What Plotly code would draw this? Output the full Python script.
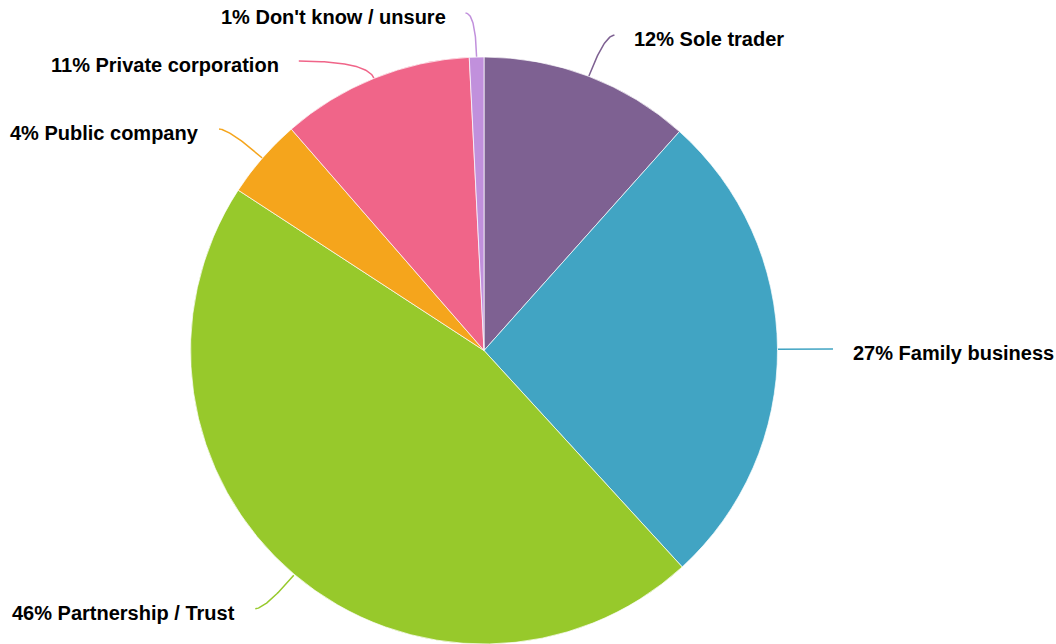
import numpy as np
import plotly.graph_objects as go

# ---- data ----
categories = ["Sole trader", "Family business", "Partnership / Trust",
              "Public company", "Private corporation", "Don't know / unsure"]
values = [11.6, 26.6, 46.0, 4.4, 10.6, 0.8]
colors = ["#7E6192", "#41A4C3", "#97C92B", "#F5A51C", "#F06589", "#C190DC"]

# ---- geometry (page pixels) ----
W, H = 1056, 644
CX, CY, R = 484, 351, 294
RL_Y = 338      # radius used to place label ends vertically
RL_X = 338      # radius used to place label ends horizontally
RL_PUSH = 344   # horizontal radius for labels pushed down to avoid overlap
GAP = 48        # minimum vertical gap between labels on one side

tot = float(sum(values))
fig = go.Figure()

fx0, fx1 = (CX - R) / W, (CX + R) / W
fy0, fy1 = 1 - (CY + R) / H, 1 - (CY - R) / H
fig.add_trace(go.Pie(
    labels=categories, values=values, sort=False, direction="clockwise",
    rotation=0, textinfo="none", hoverinfo="label+percent",
    marker=dict(colors=colors, line=dict(color="rgba(255,255,255,0.7)", width=1)),
    domain=dict(x=[fx0, fx1], y=[max(0, fy0), min(1, fy1)]),
    showlegend=False,
))

# compute leader geometry
items = []
cum = 0.0
for cat, v, col in zip(categories, values, colors):
    f = (cum + v / 2) / tot
    cum += v
    a = 2 * np.pi * f
    ux, uy = np.sin(a), -np.cos(a)
    p0 = (CX + R * ux, CY + R * uy)
    yend = CY + RL_Y * uy
    side = 1 if ux >= 0 else -1
    pct = int(np.floor(v / tot * 100 + 0.5))
    items.append(dict(cat=cat, col=col, ux=ux, uy=uy, p0=p0, y=yend, side=side,
                      pct=pct, pushed=False))

for s in (1, -1):
    grp = sorted([it for it in items if it["side"] == s], key=lambda d: d["y"])
    for i in range(1, len(grp)):
        if grp[i]["y"] < grp[i - 1]["y"] + GAP:
            grp[i]["y"] = grp[i - 1]["y"] + GAP
            grp[i]["pushed"] = True

for it in items:
    p0x, p0y = it["p0"]
    yend = it["y"]
    if abs(it["uy"]) > 0.05:
        t = max(0.0, (yend - p0y) / it["uy"])
    else:
        t = 45.0
    cx_ = p0x + t * it["ux"]
    dxc = abs(cx_ - CX) + 10
    rx = RL_PUSH if it["pushed"] else RL_X
    dxr = np.sqrt(max(rx ** 2 - (yend - CY) ** 2, 0.0))
    ex = CX + it["side"] * max(dxc, dxr)
    tt = np.linspace(0, 1, 40)
    bx = (1 - tt) ** 2 * p0x + 2 * (1 - tt) * tt * cx_ + tt ** 2 * ex
    by = (1 - tt) ** 2 * p0y + 2 * (1 - tt) * tt * yend + tt ** 2 * yend
    fig.add_trace(go.Scatter(x=bx, y=by, mode="lines", line=dict(color=it["col"], width=1.5),
                             hoverinfo="skip", showlegend=False))
    fig.add_annotation(
        x=ex + it["side"] * 18, y=yend + 4, xref="x", yref="y",
        text=f"{it['pct']}% {it['cat']}", showarrow=False,
        xanchor="left" if it["side"] > 0 else "right", yanchor="middle",
        font=dict(family="Liberation Sans, Arial, sans-serif", size=20, color="#000000", weight="bold"),
    )

fig.update_xaxes(range=[0, W], visible=False, fixedrange=True)
fig.update_yaxes(range=[H, 0], visible=False, fixedrange=True)
fig.update_layout(
    width=W, height=H, margin=dict(l=0, r=0, t=0, b=0),
    paper_bgcolor="white", plot_bgcolor="rgba(0,0,0,0)",
)
fig.write_html("out.html", config={"displayModeBar": False},
               post_script="document.body.style.margin='0';document.body.style.overflow='hidden';")
